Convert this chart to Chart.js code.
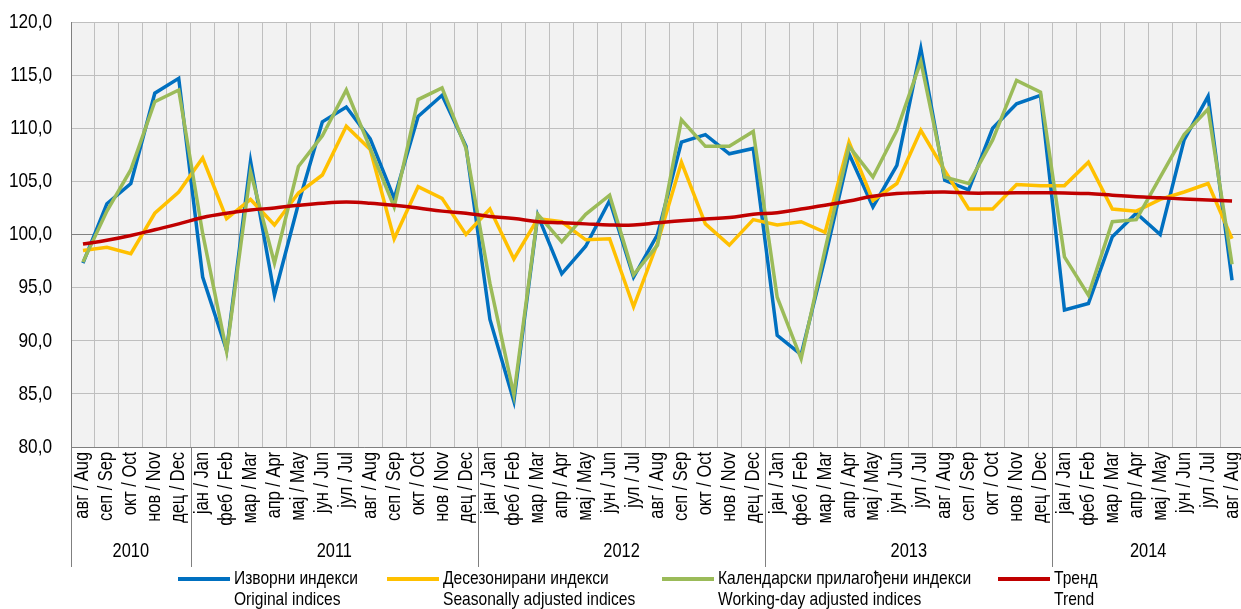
<!DOCTYPE html>
<html>
<head>
<meta charset="utf-8">
<script src="https://cdn.jsdelivr.net/npm/chart.js@4.4.1/dist/chart.umd.min.js"></script>
<style>
  body { margin: 0; background: #fff; overflow: hidden; }
  #wrap { position: absolute; left: 0; top: 0; width: 1245px; height: 609px; }
</style>
</head>
<body>
<div id="wrap"><canvas id="grafico" width="1245" height="609"></canvas></div>
<script>
// meseci i godine
var monthNames = ['јан / Jan', 'феб / Feb', 'мар / Mar', 'апр / Apr', 'мај / May', 'јун / Jun',
                  'јул / Jul', 'авг / Aug', 'сеп / Sep', 'окт / Oct', 'нов / Nov', 'дец / Dec'];
var years = ['2010', '2011', '2012', '2013', '2014'];
var monthsPerYear = [5, 12, 12, 12, 8];   // avg 2010 - avg 2014

// Изворни индекси / Original indices
var izvorni = [97.3, 102.9, 104.8, 113.3, 114.7,
               96.0, 89.1, 106.9, 94.3, 102.9, 110.6, 112.0, 109.0, 103.4, 111.1, 113.1, 108.3,
               92.0, 84.3, 101.8, 96.3, 98.9, 103.2, 96.0, 100.0, 108.7, 109.4, 107.6, 108.1,
               90.5, 88.7, 97.8, 107.6, 102.6, 106.5, 117.5, 105.1, 104.2, 110.0, 112.3, 113.1,
               92.9, 93.5, 99.8, 102.0, 100.0, 108.9, 113.0, 95.7];
// Десезонирани индекси / Seasonally adjusted indices
var desezonirani = [98.5, 98.8, 98.2, 102.0, 104.0,
                    107.2, 101.5, 103.3, 100.9, 103.9, 105.6, 110.2, 108.0, 99.6, 104.5, 103.4, 100.0,
                    102.4, 97.7, 101.5, 101.2, 99.5, 99.6, 93.2, 99.2, 106.8, 101.0, 99.0, 101.4,
                    100.9, 101.2, 100.2, 108.7, 103.2, 104.8, 109.8, 106.0, 102.4, 102.4, 104.7, 104.6,
                    104.6, 106.8, 102.4, 102.2, 103.3, 104.0, 104.8, 99.6];
// Календарски прилагођени индекси / Working-day adjusted indices
var kalendarski = [97.4, 102.2, 106.1, 112.5, 113.6,
                   100.1, 89.0, 105.9, 97.3, 106.4, 109.3, 113.6, 108.1, 102.6, 112.7, 113.8, 108.1,
                   95.4, 84.9, 101.9, 99.3, 101.9, 103.7, 96.2, 99.0, 110.8, 108.3, 108.3, 109.7,
                   94.1, 88.3, 98.6, 108.3, 105.4, 109.8, 116.3, 105.4, 104.8, 108.9, 114.5, 113.4,
                   97.9, 94.3, 101.2, 101.4, 105.4, 109.4, 111.8, 97.2];
// Тренд / Trend
var trend = [99.1, 99.45, 99.9, 100.45, 101.0,
             101.6, 102.0, 102.3, 102.5, 102.75, 102.95, 103.05, 102.95, 102.75, 102.5, 102.2, 102.0,
             101.7, 101.5, 101.2, 101.1, 101.0, 100.9, 100.9, 101.1, 101.3, 101.45, 101.6, 101.9,
             102.05, 102.4, 102.75, 103.15, 103.6, 103.85, 103.95, 104.0, 103.9, 103.9, 103.93, 103.93,
             103.9, 103.85, 103.7, 103.55, 103.45, 103.35, 103.25, 103.15];

var yMin = 80, yMax = 120, yStep = 5;

var serije = [
    { sr: 'Изворни индекси', en: 'Original indices', boja: '#0070C0', data: izvorni },
    { sr: 'Десезонирани индекси', en: 'Seasonally adjusted indices', boja: '#FFC000', data: desezonirani },
    { sr: 'Календарски прилагођени индекси', en: 'Working-day adjusted indices', boja: '#9BBB59', data: kalendarski },
    { sr: 'Тренд', en: 'Trend', boja: '#C00000', data: trend }
];
var legendaX = [178, 387, 662, 998];

// kategorije: avg 2010 ... avg 2014
var labels = [];
var start = 7;
for (var g = 0; g < years.length; g++) {
    for (var m = 0; m < monthsPerYear[g]; m++) {
        labels.push(monthNames[(start + m) % 12]);
    }
    start = 0;
}

var FONT = "'Liberation Sans', Arial, sans-serif";
var USKO = 0.82;   // "Arial Narrow" efekat

// tekst suzen po sirini
function uskiTekst(ctx, txt, x, y, size, align, rot) {
    ctx.save();
    ctx.translate(x, y);
    if (rot) ctx.rotate(rot);
    ctx.scale(USKO, 1);
    ctx.font = size + 'px ' + FONT;
    ctx.textAlign = align;
    ctx.textBaseline = 'middle';
    ctx.fillText(txt, 0, 0);
    ctx.restore();
}

var pozadina = {
    id: 'pozadina',
    beforeDraw: function (chart) {
        var a = chart.chartArea, ctx = chart.ctx;
        ctx.save();
        ctx.fillStyle = '#F2F2F2';
        ctx.fillRect(a.left, a.top, a.right - a.left, a.bottom - a.top);
        ctx.restore();
    }
};

var tekstovi = {
    id: 'tekstovi',
    afterDraw: function (chart) {
        var ctx = chart.ctx, x = chart.scales.x, y = chart.scales.y, a = chart.chartArea;
        var w = x.getPixelForValue(1) - x.getPixelForValue(0);
        ctx.save();
        ctx.fillStyle = '#000';

        // y oznake
        y.ticks.forEach(function (t) {
            uskiTekst(ctx, t.value.toFixed(1).replace('.', ','), 52, y.getPixelForValue(t.value), 21, 'right');
        });

        // meseci
        labels.forEach(function (l, i) {
            uskiTekst(ctx, l, x.getPixelForValue(i), a.bottom + 5, 20, 'right', -Math.PI / 2);
        });

        // godine i separatori
        ctx.strokeStyle = '#808080';
        ctx.lineWidth = 1;
        var idx = 0;
        for (var g = 0; g < years.length; g++) {
            var x0 = x.getPixelForValue(idx) - w / 2;
            var x1 = x.getPixelForValue(idx + monthsPerYear[g] - 1) + w / 2;
            var px = Math.round(x0) + 0.5;
            ctx.beginPath();
            ctx.moveTo(px, a.bottom);
            ctx.lineTo(px, 567);
            ctx.stroke();
            uskiTekst(ctx, years[g], (x0 + x1) / 2, 551, 20, 'center');
            idx += monthsPerYear[g];
        }

        // legenda
        for (var i = 0; i < serije.length; i++) {
            var lx = legendaX[i];
            ctx.strokeStyle = serije[i].boja;
            ctx.lineWidth = 4;
            ctx.beginPath();
            ctx.moveTo(lx, 579);
            ctx.lineTo(lx + 52, 579);
            ctx.stroke();
            uskiTekst(ctx, serije[i].sr, lx + 56, 579, 19, 'left');
            uskiTekst(ctx, serije[i].en, lx + 56, 600, 19, 'left');
        }
        ctx.restore();
    }
};

var redosled = [3, 2, 1, 0];
var datasets = serije.map(function (s, i) {
    return {
        label: s.sr,
        data: s.data,
        borderColor: s.boja,
        backgroundColor: s.boja,
        borderWidth: 3.5,
        pointRadius: 0,
        tension: i === 3 ? 0.4 : 0,
        order: redosled[i],
        fill: false
    };
});

var contexto = document.getElementById('grafico').getContext('2d');
var myChart = new Chart(contexto, {
    type: 'line',
    data: { labels: labels, datasets: datasets },
    options: {
        responsive: false,
        animation: false,
        devicePixelRatio: 1,
        layout: { padding: { top: 22, right: 1, left: 0, bottom: 0 } },
        plugins: { legend: { display: false }, tooltip: { enabled: false } },
        scales: {
            x: {
                offset: true,
                grid: { offset: true, color: '#BFBFBF', lineWidth: 1, drawTicks: false },
                border: { color: '#808080' },
                ticks: { display: false, autoSkip: false },
                afterFit: function (s) {
                    s.height = 162;
                    s.paddingLeft = 0; s.paddingRight = 0;
                }
            },
            y: {
                min: yMin, max: yMax,
                grid: {
                    drawTicks: false, lineWidth: 1,
                    color: function (c) { return c.tick && c.tick.value === 100 ? '#808080' : '#BFBFBF'; }
                },
                border: { color: '#808080' },
                ticks: { display: false, stepSize: yStep },
                afterFit: function (s) {
                    s.width = 71;
                    s.paddingTop = 0; s.paddingBottom = 0;
                }
            }
        }
    },
    plugins: [pozadina, tekstovi]
});
</script>
</body>
</html>
